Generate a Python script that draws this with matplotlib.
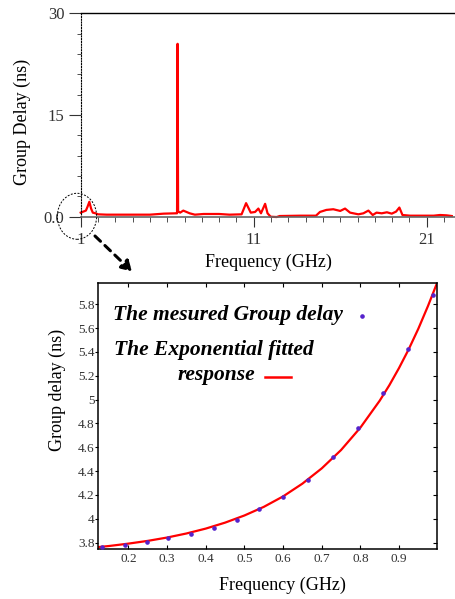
import matplotlib
matplotlib.use('Agg')
import matplotlib.pyplot as plt
from matplotlib.patches import Ellipse, FancyArrowPatch
from matplotlib.lines import Line2D
from matplotlib.ticker import MultipleLocator

plt.rcParams['font.family'] = ['Liberation Serif', 'DejaVu Serif']

# top panel: measured group delay 1-22.5 GHz
freq_wide = [1.0, 1.3, 1.4, 1.5, 1.6, 1.7, 1.85, 2.0, 2.5, 4.0, 5.0, 5.8, 6.5, 6.57, 6.6, 6.63,
             6.75, 6.93, 7.3, 7.6, 8.1, 9.0, 9.6, 10.3, 10.56, 10.83, 11.08, 11.27, 11.42,
             11.66, 11.8, 11.98, 12.33, 12.5, 13.7, 14.6, 14.83, 15.2, 15.6, 16.0, 16.28,
             16.57, 17.05, 17.34, 17.63, 17.88, 18.1, 18.4, 18.7, 18.98, 19.23, 19.42, 19.6,
             20.04, 21.4, 21.77, 22.15, 22.45]
delay_wide = [0.6, 0.9, 1.5, 2.2, 1.2, 0.6, 0.5, 0.35, 0.3, 0.3, 0.3, 0.45, 0.5, 0.5, 25.5, 0.8,
              0.6, 0.9, 0.5, 0.3, 0.4, 0.4, 0.3, 0.35, 2.0, 0.6, 0.7, 1.2, 0.5,
              1.9, 0.5, 0.0, -0.05, 0.1, 0.15, 0.15, 0.7, 1.0, 1.1, 0.85, 1.2,
              0.6, 0.35, 0.5, 0.9, 0.25, 0.6, 0.5, 0.65, 0.45, 0.75, 1.35, 0.25,
              0.15, 0.15, 0.25, 0.2, 0.1]

# bottom panel: zoom 0.12-1 GHz
freq_meas = [0.131, 0.190, 0.249, 0.303, 0.362, 0.422, 0.480, 0.539, 0.599, 0.665,
             0.730, 0.793, 0.858, 0.923, 0.987]
delay_meas = [3.766, 3.781, 3.808, 3.837, 3.870, 3.926, 3.990, 4.080, 4.186, 4.326,
              4.516, 4.760, 5.053, 5.422, 5.878]
freq_fit = [0.122, 0.15, 0.2, 0.25, 0.3, 0.35, 0.4, 0.45, 0.5, 0.55, 0.6, 0.65, 0.7,
            0.75, 0.8, 0.85, 0.875, 0.9, 0.925, 0.95, 0.975, 0.9975]
delay_fit = [3.763, 3.772, 3.792, 3.815, 3.843, 3.877, 3.918, 3.968, 4.028, 4.100, 4.188,
             4.295, 4.423, 4.577, 4.765, 4.991, 5.121, 5.265, 5.422, 5.595, 5.786, 5.971]

W, H = 455, 599
fig = plt.figure(figsize=(W / 100, H / 100), dpi=100)

def fx(px):
    return px / W

def fy(py):
    return 1 - py / H

tick_col = '#333333'

# ---- top panel
ax1 = fig.add_axes([fx(80.7), fy(216.7), fx(455 - 80.7), (216.7 - 13.3) / H])
ax1.plot(freq_wide, delay_wide, color='red', lw=1.6, clip_on=False)
ax1.set_xlim(1, 1 + (455 - 80.7) / 17.3)
ax1.set_ylim(0, 30)
ax1.spines['right'].set_visible(False)
ax1.spines['left'].set_linestyle((0, (1, 1.5)))
ax1.spines['left'].set_linewidth(0.8)
ax1.spines['bottom'].set_color('#666666')
ax1.spines['bottom'].set_linewidth(1.2)
ax1.spines['top'].set_linewidth(1.0)
ax1.set_xticks([1, 11, 21])
ax1.xaxis.set_minor_locator(MultipleLocator(1))
ax1.set_yticks([0, 15, 30])
ax1.set_yticklabels(['0.0', '15', '30'])
ax1.yaxis.set_minor_locator(MultipleLocator(3))
ax1.tick_params(axis='x', which='major', direction='out', length=7, pad=4,
                labelsize=12, labelcolor=tick_col, color='#333333')
ax1.tick_params(axis='x', which='minor', direction='out', length=3.6, color='#333333')
ax1.tick_params(axis='y', which='major', direction='out', length=8.6, pad=3,
                labelsize=12, labelcolor=tick_col, color='#333333')
ax1.tick_params(axis='y', which='minor', direction='out', length=2.9, color='#333333')
fig.text(fx(268), fy(262), 'Frequency (GHz)', ha='center', va='center', fontsize=13)
fig.text(fx(22.5), fy(122), 'Group Delay (ns)', ha='center', va='center',
         rotation=90, fontsize=13)

# ---- bottom panel
ax2 = fig.add_axes([fx(98.3), fy(548.5), fx(436.7 - 98.3), (548.5 - 283.3) / H])
ax2.plot(freq_fit, delay_fit, color='red', lw=1.6)
ax2.plot(freq_meas, delay_meas, 'o', color='#5522cc', ms=2.3, zorder=3)
ax2.set_xlim(0.122, 0.9975)
ax2.set_ylim(3.751, 5.976)
ax2.set_xticks([0.2, 0.3, 0.4, 0.5, 0.6, 0.7, 0.8, 0.9])
ax2.set_yticks([3.8, 4.0, 4.2, 4.4, 4.6, 4.8, 5.0, 5.2, 5.4, 5.6, 5.8])
ax2.set_yticklabels(['3.8', '4', '4.2', '4.4', '4.6', '4.8', '5', '5.2', '5.4', '5.6', '5.8'])
ax2.tick_params(axis='x', direction='in', length=3, pad=3.5, top=True,
                labelsize=9.5, labelcolor=tick_col)
ax2.tick_params(axis='y', direction='out', length=2.2, pad=0.5,
                labelsize=9.5, labelcolor=tick_col)
ax2.tick_params(axis='y', which='major', right=True)
for s in ax2.spines.values():
    s.set_linewidth(1.1)
# right ticks point inward
for t in ax2.yaxis.get_major_ticks():
    t.tick2line.set_marker(matplotlib.lines.TICKLEFT)
    t.tick2line.set_markersize(3)
fig.text(fx(282.5), fy(585), 'Frequency (GHz)', ha='center', va='center', fontsize=13)
fig.text(fx(57), fy(390), 'Group delay (ns)', ha='center', va='center',
         rotation=90, fontsize=13)

# legend-like labels
lbl = dict(fontsize=15.5, fontweight='bold', style='italic')
fig.text(fx(113.3), fy(320), 'The mesured Group delay', ha='left', va='baseline', **lbl)
fig.text(fx(114.3), fy(355), 'The Exponential fitted', ha='left', va='baseline', **lbl)
fig.text(fx(216), fy(380), 'response', ha='center', va='baseline', **lbl)
fig.add_artist(Line2D([fx(362.3)], [fy(316)], marker='o', color='#5522cc', ms=2.3,
                      transform=fig.transFigure))
fig.add_artist(Line2D([fx(265), fx(291)], [fy(376.7), fy(376.7)], color='red', lw=1.8,
                      transform=fig.transFigure))

# zoom marker: dashed circle and arrow
fig.add_artist(Ellipse((fx(77), fy(216.3)), fx(39.3), 46 / H, fill=False,
                       ls=(0, (2, 1.5)), lw=0.7, color='black', transform=fig.transFigure))
fig.add_artist(FancyArrowPatch((fx(95), fy(236)), (fx(132), fy(271.5)),
                               arrowstyle='-|>,head_length=6,head_width=3.5',
                               ls=(0, (2.5, 2)), lw=2.2, color='black',
                               transform=fig.transFigure, shrinkA=0, shrinkB=0))

fig.savefig('out.png', dpi=100)
